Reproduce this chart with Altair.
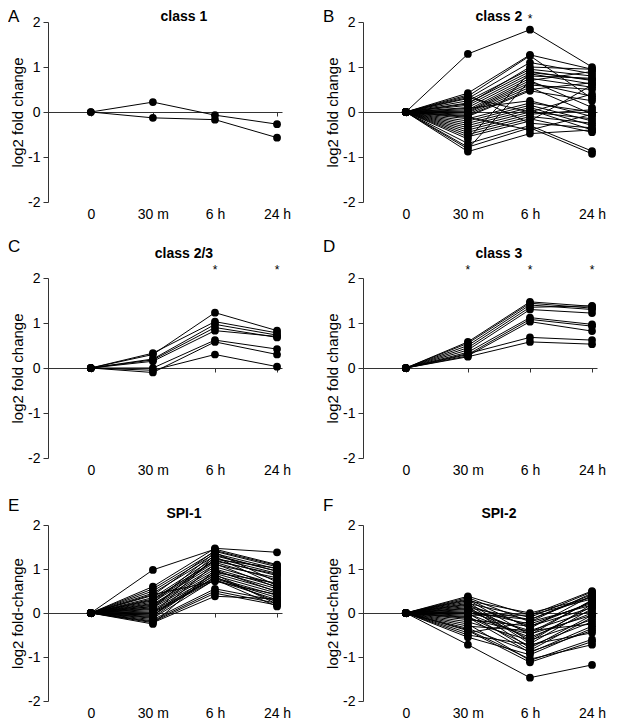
import json
import altair as alt
import pandas as pd

# ---------------- data ----------------
TIME_LABELS = ["0", "30 m", "6 h", "24 h"]
PANEL_LETTERS = ["A", "B", "C", "D", "E", "F"]
PANEL_TITLES = ["class 1", "class 2", "class 2/3", "class 3", "SPI-1", "SPI-2"]
Y_TITLES = ["log2 fold change", "log2 fold change", "log2 fold change",
            "log2 fold change", "log2 fold-change", "log2 fold-change"]
STAR_TIMES = [[], ["6 h"], ["6 h", "24 h"], ["30 m", "6 h", "24 h"], [], []]

# log2 fold change at 30 m, 6 h, 24 h (every gene starts at 0 at time 0)
CLASS_1 = [
    [0.22, -0.07, -0.27],
    [-0.13, -0.17, -0.57],
]
CLASS_2 = [
    [1.29, 1.83, 1.00], [0.42, 1.27, 0.95], [0.35, 1.25, 0.30], [0.30, 1.10, 0.85],
    [0.25, 0.95, 0.80], [0.20, 0.90, 0.70], [0.15, 0.85, 0.62], [0.10, 0.80, 0.75],
    [0.05, 0.75, 0.55], [0.02, 0.70, 0.90], [0.00, 0.65, 0.35], [-0.02, 0.60, 0.50],
    [-0.05, 0.55, -0.05], [-0.08, 0.50, 0.65], [-0.10, 0.47, 0.25], [0.08, 0.25, -0.10],
    [-0.15, 0.20, 0.00], [-0.20, 0.15, -0.20], [-0.25, 0.10, -0.30], [-0.30, 0.05, -0.40],
    [-0.35, 0.00, -0.15], [-0.40, -0.05, 0.05], [-0.45, -0.10, -0.25], [-0.50, -0.15, -0.45],
    [-0.55, -0.20, 0.60], [0.38, -0.25, -0.35], [-0.70, -0.30, -0.87], [-0.78, -0.35, -0.93],
    [-0.88, -0.48, -0.40], [-0.82, 0.70, 0.10], [0.18, 1.00, 0.95], [-0.60, 0.88, 0.72],
    [-0.12, -0.40, -0.05], [0.32, 0.00, 0.40],
]
CLASS_2_3 = [
    [0.30, 1.23, 0.83], [0.33, 1.03, 0.78], [0.20, 0.97, 0.73], [0.18, 0.90, 0.68],
    [0.15, 0.83, 0.70], [0.00, 0.62, 0.42], [-0.10, 0.58, 0.30], [-0.05, 0.30, 0.03],
]
CLASS_3 = [
    [0.58, 1.47, 1.37], [0.55, 1.44, 1.33], [0.50, 1.40, 1.30], [0.45, 1.35, 1.38],
    [0.40, 1.30, 1.22], [0.35, 1.12, 0.97], [0.30, 1.08, 0.93], [0.27, 1.03, 0.82],
    [0.32, 0.68, 0.62], [0.25, 0.58, 0.53],
]
SPI_1 = [
    [0.98, 1.45, 1.10], [0.60, 1.47, 1.38], [0.55, 1.40, 1.05], [0.50, 1.35, 1.00],
    [0.45, 1.30, 0.95], [0.40, 1.42, 1.08], [0.35, 1.25, 0.90], [0.30, 1.20, 0.85],
    [0.28, 1.15, 0.75], [0.25, 1.10, 0.80], [0.22, 1.38, 0.70], [0.20, 1.05, 0.65],
    [0.18, 1.00, 0.60], [0.15, 0.95, 0.55], [0.12, 0.90, 0.50], [0.10, 1.32, 0.95],
    [0.08, 0.85, 0.45], [0.05, 0.80, 0.40], [0.02, 0.78, 0.35], [0.00, 0.75, 0.30],
    [-0.02, 1.28, 0.62], [-0.05, 0.82, 0.25], [-0.08, 1.12, 0.58], [-0.10, 0.88, 0.20],
    [-0.12, 0.76, 0.15], [-0.15, 0.55, 0.28], [-0.18, 0.50, 0.22], [-0.20, 0.45, 0.18],
    [-0.22, 0.38, 0.32], [-0.25, 0.98, 0.48], [0.32, 1.18, 0.88], [0.42, 0.72, 0.42],
    [0.15, 1.22, 1.02], [-0.05, 0.92, 0.68],
]
SPI_2 = [
    [0.38, -0.05, 0.50], [0.35, -0.20, 0.45], [0.32, -0.35, 0.40], [0.30, -0.50, 0.30],
    [0.28, 0.00, 0.35], [0.25, -0.65, 0.20], [0.22, -0.10, 0.48], [0.20, -0.70, 0.10],
    [0.18, -0.30, 0.25], [0.15, -0.80, -0.05], [0.12, -0.15, 0.42], [0.10, -0.45, 0.28],
    [0.08, -0.60, 0.15], [0.05, -0.25, 0.22], [0.02, -0.40, 0.05], [0.00, -0.85, -0.10],
    [-0.02, -0.55, 0.00], [-0.05, -0.05, 0.32], [-0.08, -0.75, -0.20], [-0.10, -0.90, -0.30],
    [-0.15, -0.30, 0.12], [-0.20, -0.62, -0.15], [-0.25, -1.08, -0.60], [-0.30, -0.40, -0.25],
    [-0.35, -0.88, -0.40], [-0.40, -1.12, -0.65], [-0.45, -0.20, 0.18], [-0.50, -0.72, -0.45],
    [-0.55, -0.95, -0.35], [-0.72, -1.47, -1.18], [-0.38, -1.05, -0.72], [0.00, -0.15, 0.38],
    [-0.12, -0.48, -0.05],
]
PANEL_SERIES = [CLASS_1, CLASS_2, CLASS_2_3, CLASS_3, SPI_1, SPI_2]

# ---------------- layout / style ----------------
FONT = "Liberation Sans"
PANEL_W = 234
ROW_H = [180, 180, 176]
# text baselines in px relative to the top of each plot area
ROW_TEXT = [
    {"letter": 0, "title": -1.5, "star": 1},
    {"letter": -26, "title": -20, "star": -4.5},
    {"letter": -14, "title": -7, "star": -4.5},
]
X_DOMAIN = [-0.69, 3.08]
AXIS_COLOR = "#333333"

label_expr = f"{json.dumps(TIME_LABELS)}[datum.value]"


def make_panel(i):
    r = i // 2
    h = ROW_H[r]
    txt = ROW_TEXT[r]
    rows = []
    for g, vals in enumerate(PANEL_SERIES[i]):
        for t, v in enumerate([0.0] + list(vals)):
            rows.append({"gene": g, "t": t, "v": v})
    df = pd.DataFrame(rows)

    x = alt.X(
        "t:Q",
        scale=alt.Scale(domain=X_DOMAIN, nice=False, zero=False),
        axis=alt.Axis(
            values=list(range(len(TIME_LABELS))), labelExpr=label_expr,
            offset=-h / 2, tickSize=4, labelPadding=h / 2 + 1, grid=False,
            title=None, labelFlush=False, labelOverlap=False,
        ),
    )
    y = alt.Y(
        "v:Q",
        scale=alt.Scale(domain=[-2, 2], nice=False, zero=False),
        axis=alt.Axis(
            values=[-2, -1, 0, 1, 2], labelExpr="datum.value + ''",
            tickSize=5, labelPadding=3, titlePadding=2, grid=False,
            title=Y_TITLES[i], labelFlush=False, labelOverlap=False,
        ),
    )

    base = alt.Chart(df)
    lines = base.mark_line(color="black", strokeWidth=1).encode(x=x, y=y, detail="gene:N")
    pts = base.mark_circle(color="black", size=60, opacity=1).encode(x=x, y=y)

    title = alt.Chart(
        pd.DataFrame({"t": [(len(TIME_LABELS) - 1) / 2], "label": [PANEL_TITLES[i]]})
    ).mark_text(fontWeight="bold", fontSize=14, baseline="alphabetic", align="center",
                color="black").encode(x=x, y=alt.value(txt["title"]), text="label:N")

    letter = alt.Chart(pd.DataFrame({"letter": [PANEL_LETTERS[i]]})).mark_text(
        align="left", baseline="alphabetic", fontSize=17, color="black"
    ).encode(x=alt.value(-40), y=alt.value(txt["letter"]), text="letter:N")

    layers = [lines, pts, title, letter]
    if STAR_TIMES[i]:
        sdf = pd.DataFrame({"t": [TIME_LABELS.index(s) for s in STAR_TIMES[i]],
                            "s": ["*"] * len(STAR_TIMES[i])})
        stars = alt.Chart(sdf).mark_text(
            fontSize=12, baseline="alphabetic", align="center", color="black"
        ).encode(x=x, y=alt.value(txt["star"]), text="s:N")
        layers.append(stars)

    return alt.layer(*layers).properties(width=PANEL_W, height=h)


rows = [alt.hconcat(make_panel(2 * r), make_panel(2 * r + 1), spacing=32) for r in range(3)]
lower = alt.vconcat(rows[1], rows[2], spacing=20)

chart = (
    alt.vconcat(rows[0], lower, spacing=17)
    .properties(padding=0)
    .configure_view(stroke=None)
    .configure_axis(
        labelFont=FONT, titleFont=FONT, labelFontSize=14, titleFontSize=15,
        titleFontWeight="normal", labelColor="black", titleColor="black",
        domainColor=AXIS_COLOR, tickColor=AXIS_COLOR, domainWidth=1, tickWidth=1,
    )
    .configure_text(font=FONT)
)

chart.save("out.html", embed_options={"renderer": "svg", "actions": False})
